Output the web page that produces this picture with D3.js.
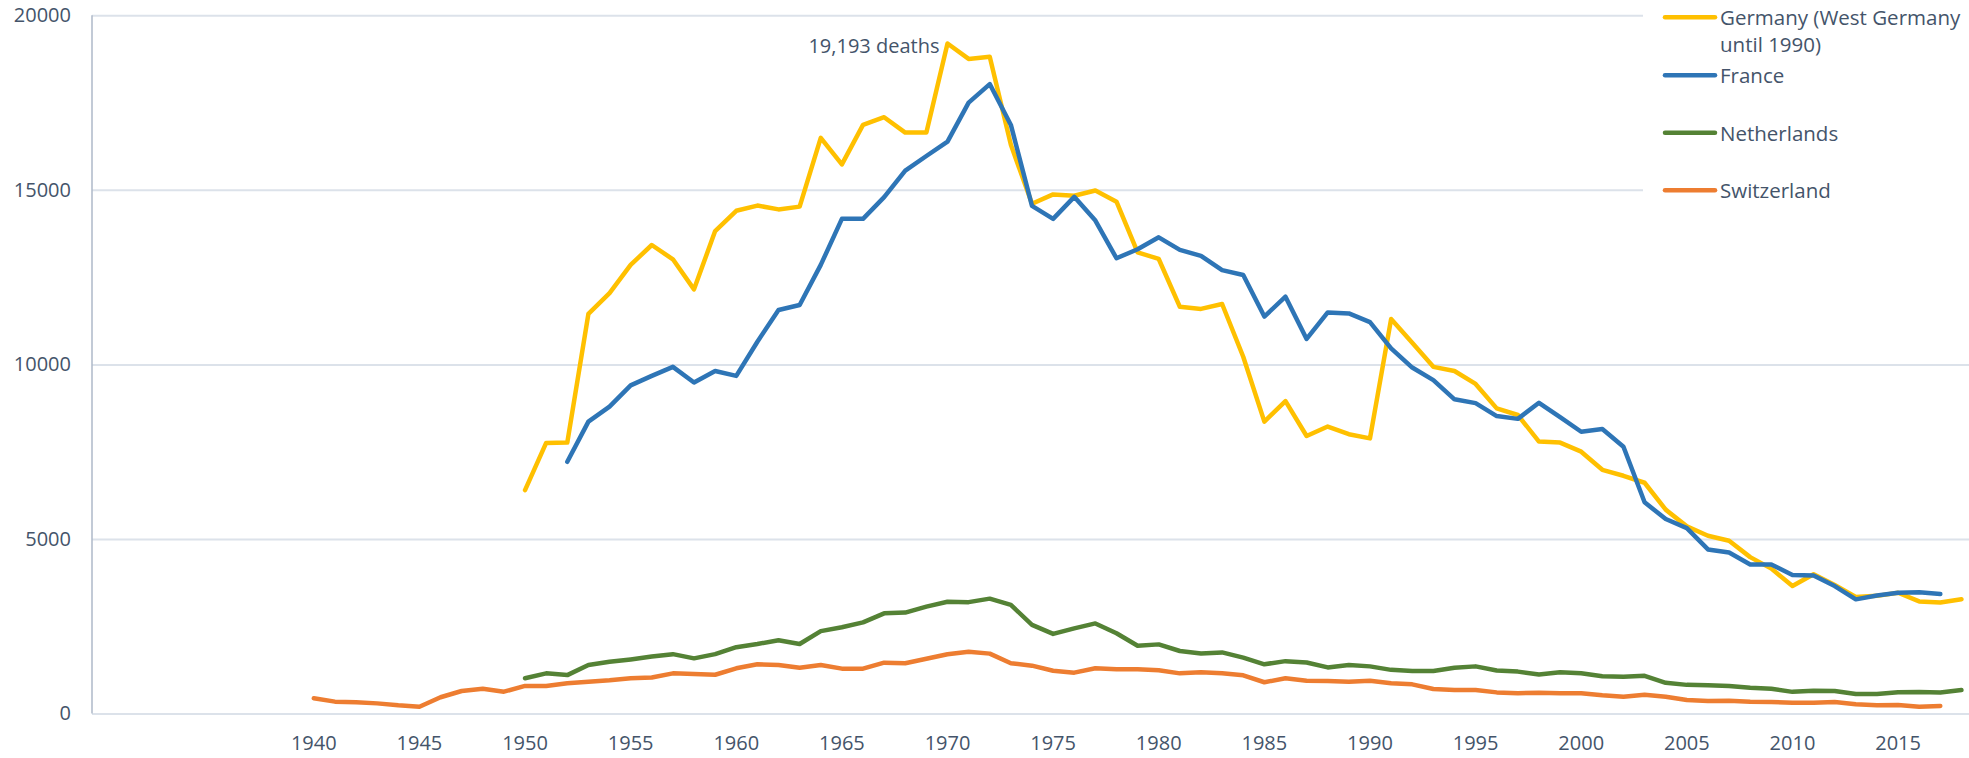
<!DOCTYPE html>
<html>
<head>
<meta charset="utf-8">
<script src="https://cdnjs.cloudflare.com/ajax/libs/d3/7.8.5/d3.min.js"></script>
<style>
  html, body { margin: 0; padding: 0; background: #fff; }
  svg text { font-family: "Open Sans", "Noto Sans", sans-serif; fill: #44546A; }
</style>
</head>
<body>
<svg class="svg-canvas" width="1969" height="758"></svg>
<script>
//Years on the category axis (one slot per year)
var firstYear = 1930;
var lastYear = 2018;

//Years that get a label on the x axis
var tickYears = [1940, 1945, 1950, 1955, 1960, 1965, 1970, 1975, 1980, 1985,
                 1990, 1995, 2000, 2005, 2010, 2015];

//Values on the y axis
var yTicks = [0, 5000, 10000, 15000, 20000];

//Series names, in legend order
var seriesNames = ["Germany (West Germany until 1990)", "France", "Netherlands", "Switzerland"];
var seriesColors = ["#FFC000", "#2E75B6", "#548235", "#ED7D31"];

//First year of each series
var seriesStart = [1950, 1952, 1950, 1940];

//Road deaths per year, 1950-2018
var germany = [6400, 7750, 7760, 11450, 12040, 12850, 13420, 13010, 12150, 13820,
               14400, 14550, 14440, 14520, 16490, 15730, 16860, 17080, 16640, 16640,
               19193, 18750, 18810, 16290, 14600, 14870, 14830, 14980, 14660, 13210,
               13020, 11650, 11590, 11730, 10220, 8360, 8950, 7950, 8220, 8000,
               7880, 11300, 10620, 9930, 9810, 9440, 8740, 8550, 7790, 7760,
               7500, 6980, 6810, 6610, 5840, 5360, 5090, 4950, 4480, 4150,
               3650, 3990, 3680, 3340, 3370, 3460, 3210, 3180, 3275];

//1952-2017
var france = [7210, 8360, 8790, 9400, 9670, 9930, 9480, 9810, 9670, 10650,
              11560, 11700, 12850, 14170, 14170, 14790, 15550, 15970, 16380, 17500,
              18030, 16860, 14540, 14170, 14800, 14120, 13040, 13300, 13640, 13280,
              13110, 12700, 12560, 11370, 11940, 10730, 11490, 11460, 11210, 10460,
              9910, 9550, 9000, 8890, 8520, 8440, 8900, 8490, 8070, 8150,
              7640, 6050, 5570, 5310, 4700, 4610, 4270, 4270, 3970, 3950,
              3650, 3270, 3380, 3460, 3470, 3420];

//1950-2018
var netherlands = [1010, 1150, 1100, 1390, 1480, 1550, 1630, 1700, 1580, 1700,
                   1900, 1990, 2100, 1990, 2360, 2470, 2610, 2870, 2890, 3060,
                   3200, 3190, 3290, 3110, 2540, 2280, 2440, 2580, 2300, 1940,
                   1980, 1790, 1720, 1750, 1600, 1410, 1500, 1460, 1320, 1390,
                   1350, 1250, 1220, 1220, 1310, 1350, 1230, 1200, 1120, 1180,
                   1150, 1070, 1050, 1080, 880, 820, 810, 790, 740, 710,
                   620, 650, 645, 560, 560, 610, 615, 600, 670];

//1940-2017
var switzerland = [435, 340, 320, 290, 235, 195, 465, 645, 710, 625,
                   790, 790, 865, 910, 950, 1010, 1030, 1150, 1130, 1110,
                   1295, 1410, 1390, 1310, 1390, 1285, 1285, 1455, 1440, 1570,
                   1695, 1770, 1715, 1440, 1370, 1225, 1170, 1295, 1265, 1265,
                   1240, 1150, 1180, 1150, 1095, 895, 1010, 940, 930, 910,
                   940, 865, 835, 700, 675, 675, 605, 580, 595, 580,
                   580, 520, 480, 540, 480, 385, 360, 365, 340, 330,
                   310, 310, 330, 265, 235, 245, 195, 215];

(function(){
    var svg = d3.select('.svg-canvas');

    //Plot area
    var left = 92, right = 1972, top = 15.3, bottom = 713.5;

    //Category axis, one band per year
    var x = d3.scaleBand()
        .domain(d3.range(firstYear, lastYear + 1))
        .range([left, right])
        .padding(0);
    var xc = function(year){ return x(year) + x.bandwidth() / 2; };

    var y = d3.scaleLinear()
        .domain([0, 20000])
        .range([bottom, top]);

    //Gridlines and y labels
    var yAxis = svg.append("g")
        .attr("transform", "translate(" + left + ",0)")
        .call(d3.axisLeft(y)
            .tickValues(yTicks)
            .tickSize(-(right - left))
            .tickPadding(21)
            .tickFormat(d3.format("d")));
    yAxis.select(".domain").remove();
    yAxis.selectAll(".tick line")
        .attr("stroke", "#DCE2EA")
        .attr("stroke-width", 2);
    yAxis.selectAll(".tick text")
        .attr("font-size", 20)
        .attr("fill", "#44546A");

    //Vertical axis line
    svg.append("line")
        .attr("x1", left).attr("x2", left)
        .attr("y1", top).attr("y2", bottom)
        .attr("stroke", "#AEB9C9")
        .attr("stroke-width", 1.5);

    //X labels
    var xAxis = svg.append("g")
        .attr("transform", "translate(0," + bottom + ")")
        .call(d3.axisBottom(x)
            .tickValues(tickYears)
            .tickSize(0)
            .tickPadding(22));
    xAxis.select(".domain").remove();
    xAxis.selectAll(".tick text")
        .attr("font-size", 20)
        .attr("fill", "#44546A");

    //The lines
    var allSeries = [germany, france, netherlands, switzerland];
    var line = d3.line()
        .x(function(d){ return xc(d.year); })
        .y(function(d){ return y(d.value); });

    //Draw back to front so Germany ends up on top of France where they meet
    [3, 2, 0, 1].forEach(function(i){
        var pts = allSeries[i].map(function(v, k){
            return {year: seriesStart[i] + k, value: v};
        });
        svg.append("path")
            .datum(pts)
            .attr("fill", "none")
            .attr("stroke", seriesColors[i])
            .attr("stroke-width", 4.5)
            .attr("stroke-linejoin", "round")
            .attr("stroke-linecap", "round")
            .attr("d", line);
    });

    //Peak annotation
    var peakIdx = germany.indexOf(d3.max(germany));
    svg.append("text")
        .attr("x", xc(seriesStart[0] + peakIdx) - 8)
        .attr("y", 53)
        .attr("text-anchor", "end")
        .attr("font-size", 20)
        .text(d3.format(",")(germany[peakIdx]) + " deaths");

    //Legend sits over the top right of the plot on a white box
    svg.append("rect")
        .attr("x", 1643).attr("y", 0)
        .attr("width", 1969 - 1643).attr("height", 215)
        .attr("fill", "#fff");

    var legendY = [17.3, 75.3, 132.7, 190.3];
    var legend = svg.append("g");
    seriesNames.forEach(function(name, i){
        legend.append("line")
            .attr("x1", 1665).attr("x2", 1715)
            .attr("y1", legendY[i]).attr("y2", legendY[i])
            .attr("stroke", seriesColors[i])
            .attr("stroke-width", 4.5)
            .attr("stroke-linecap", "round");
        var t = legend.append("text")
            .attr("x", 1720)
            .attr("y", legendY[i] + 8)
            .attr("font-size", 20.5);
        if (i === 0) {
            //Germany wraps onto two lines
            t.append("tspan").attr("x", 1720).text("Germany (West Germany");
            t.append("tspan").attr("x", 1720).attr("dy", 27).text("until 1990)");
        } else {
            t.text(name);
        }
    });
})();
</script>
</body>
</html>
